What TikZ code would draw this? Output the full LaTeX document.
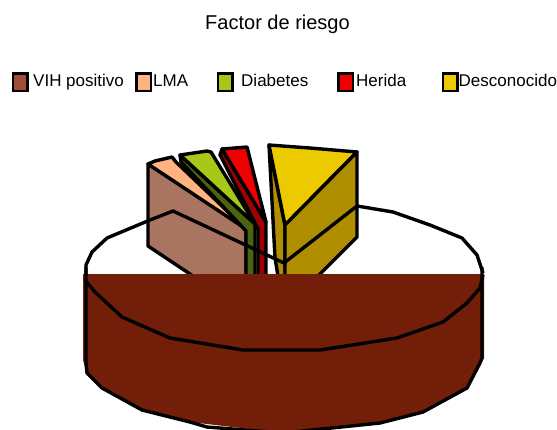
\documentclass[tikz,border=0pt]{standalone}
\usepackage{fontspec}
\setmainfont{Liberation Sans}
\definecolor{cylbrown}{HTML}{731E08}
\definecolor{vihface}{HTML}{A97560}
\definecolor{vihkey}{HTML}{A04C38}
\definecolor{lmasalmon}{HTML}{FFB380}
\definecolor{diablime}{HTML}{A8C818}
\definecolor{diabdark}{HTML}{4C6410}
\definecolor{heridared}{HTML}{EE0000}
\definecolor{heridadark}{HTML}{A00000}
\definecolor{descyellow}{HTML}{EBCB00}
\definecolor{descolive}{HTML}{AF8F00}
\tikzset{face/.style={draw=black, line width=3.4bp, line join=round},
  rim/.style={draw=black, line width=3.4bp, line join=round},
  keybox/.style={draw=black, line width=2.5bp, minimum width=14.5bp, minimum height=17.5bp, inner sep=0pt},
  keytext/.style={anchor=base west, inner sep=0pt, font=\fontsize{17bp}{20bp}\selectfont}}

\begin{document}
\begin{tikzpicture}[x=1bp,y=-1bp]
   \useasboundingbox (0,0) rectangle (557,429);
   \clip (0,0) rectangle (557,429);
   % title and legend
   \node[anchor=base, inner sep=0pt, font=\fontsize{20bp}{24bp}\selectfont] (title) at (277.5,29) {Factor de riesgo};
   \node[keybox, fill=vihkey]     (kvih)  at ( 20.0,82) {};
   \node[keybox, fill=lmasalmon]  (klma)  at (143.5,82) {};
   \node[keybox, fill=diablime]   (kdiab) at (225.0,82) {};
   \node[keybox, fill=heridared]  (kher)  at (345.5,82) {};
   \node[keybox, fill=descyellow] (kdesc) at (450.0,82) {};
   \node[keytext] (tvih)  at ( 33,86.5) {VIH positivo};
   \node[keytext] (tlma)  at (153,86.5) {LMA};
   \node[keytext] (tdiab) at (241,86.5) {Diabetes};
   \node[keytext] (ther)  at (356,86.5) {Herida};
   \node[keytext] (tdesc) at (458.5,86.5) {Desconocido};

   % slices
   \begin{scope}
    \draw[face, fill=vihface] (148,164) -- (148,246) -- (193,276) -- (246,276) -- (246,228) -- cycle;
    \draw[face, fill=lmasalmon] (148,164) -- (155,161) -- (172,157) -- (176,162) -- (246,229) -- cycle;
    \draw[face, fill=diabdark] (180,155) -- (181,162) -- (246,231) -- (246,276) -- (255,276) -- (255,224) -- cycle;
    \draw[face, fill=diablime] (180,155) -- (207,151) -- (211,152) -- (255,224) -- cycle;
    \draw[face, fill=heridadark] (222,149) -- (220,155) -- (258,229) -- (258,276) -- (266,276) -- (266,222) -- cycle;
    \draw[face, fill=heridared] (222,149) -- (247,147) -- (266,222) -- cycle;
    \draw[face, fill=descolive] (269,145) -- (285,225) -- (285,276) -- (278,276) -- (275,258) -- cycle;
    \draw[face, fill=descyellow] (269,145) -- (310,148) -- (357,152) -- (285,225) -- cycle;
    \draw[face, fill=descolive] (285,225) -- (357,152) -- (357,237) -- (318,276) -- (285,276) -- cycle;
   \end{scope}

   % top rim, back half
   \draw[rim] (86,274) -- (86,265) -- (92,252) -- (107,238) -- (150,220) -- (173,211) -- (284,263)
              -- (357,206) -- (393,212) -- (430,225) -- (462,238) -- (477,255) -- (483,273);

   % cylinder body
   \fill[cylbrown] (83,274) -- (484,274) -- (484,358) -- (467,388) -- (423,412) -- (380,423) -- (283,433)
                   -- (190,422) -- (142,410) -- (102,388) -- (86,370) -- (83,360) -- cycle;
   \draw[rim] (85,280) -- (95,292) -- (122,317) -- (170,338) -- (243,350) -- (320,350) -- (397,338)
              -- (443,322) -- (467,303) -- (480,288) -- (483,275);
   \draw[rim] (86,267) -- (86,363) -- (87,373) -- (102,388) -- (142,410) -- (190,422) -- (207,427) -- (283,433)
              -- (380,423) -- (423,412) -- (467,388) -- (480,363) -- (482,358) -- (482,267);
  \end{tikzpicture}
\end{document}
